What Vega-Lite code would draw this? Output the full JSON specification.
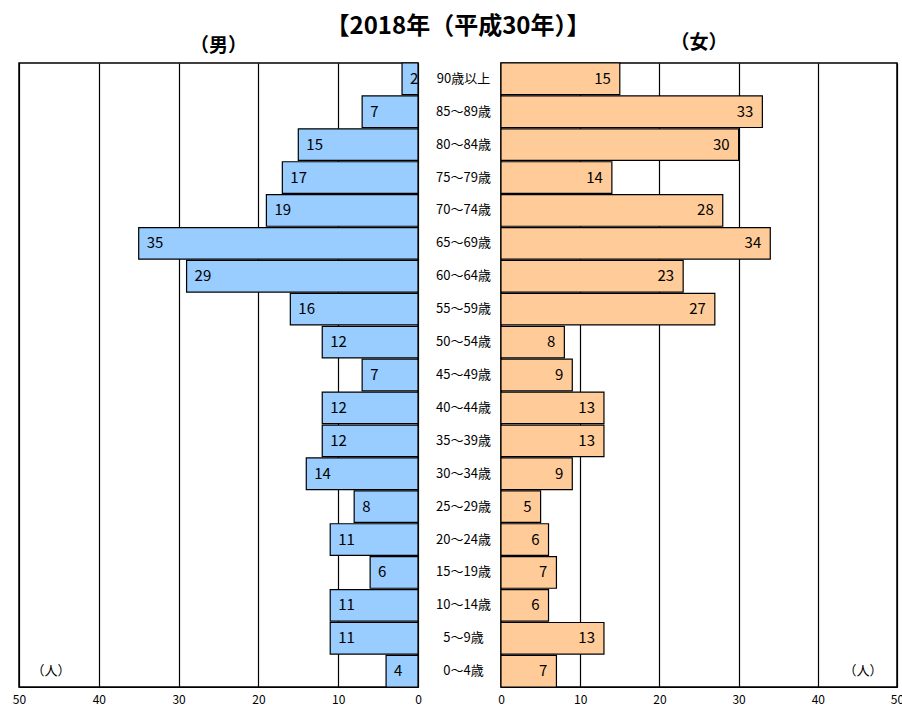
{
  "$schema": "https://vega.github.io/schema/vega-lite/v6.json",
  "background": "white",
  "padding": {"left": 11, "top": 14, "right": 0, "bottom": 5},
  "title": {"text": "【2018年（平成30年）】", "fontSize": 24, "fontWeight": "bold", "font": "Noto Sans CJK JP", "anchor": "middle", "offset": -5, "color": "black"},
  "spacing": 83,
  "bounds": "flush",
  "config": {
    "view": {"stroke": "black", "strokeWidth": 1.5},
    "font": "Noto Sans CJK JP",
    "axis": {"labelFontSize": 12, "labelColor": "black", "domainColor": "black", "gridColor": "black", "gridOpacity": 1, "gridWidth": 1.2, "ticks": false, "labelPadding": 7, "title": null, "labelFont": "Noto Sans CJK JP"},
    "title": {"color": "black", "font": "Noto Sans CJK JP"}
  },
  "datasets": {
    "pop": [
      {"age": "90歳以上", "sex": "男", "value": 2},
      {"age": "85～89歳", "sex": "男", "value": 7},
      {"age": "80～84歳", "sex": "男", "value": 15},
      {"age": "75～79歳", "sex": "男", "value": 17},
      {"age": "70～74歳", "sex": "男", "value": 19},
      {"age": "65～69歳", "sex": "男", "value": 35},
      {"age": "60～64歳", "sex": "男", "value": 29},
      {"age": "55～59歳", "sex": "男", "value": 16},
      {"age": "50～54歳", "sex": "男", "value": 12},
      {"age": "45～49歳", "sex": "男", "value": 7},
      {"age": "40～44歳", "sex": "男", "value": 12},
      {"age": "35～39歳", "sex": "男", "value": 12},
      {"age": "30～34歳", "sex": "男", "value": 14},
      {"age": "25～29歳", "sex": "男", "value": 8},
      {"age": "20～24歳", "sex": "男", "value": 11},
      {"age": "15～19歳", "sex": "男", "value": 6},
      {"age": "10～14歳", "sex": "男", "value": 11},
      {"age": "5～9歳", "sex": "男", "value": 11},
      {"age": "0～4歳", "sex": "男", "value": 4},
      {"age": "90歳以上", "sex": "女", "value": 15},
      {"age": "85～89歳", "sex": "女", "value": 33},
      {"age": "80～84歳", "sex": "女", "value": 30},
      {"age": "75～79歳", "sex": "女", "value": 14},
      {"age": "70～74歳", "sex": "女", "value": 28},
      {"age": "65～69歳", "sex": "女", "value": 34},
      {"age": "60～64歳", "sex": "女", "value": 23},
      {"age": "55～59歳", "sex": "女", "value": 27},
      {"age": "50～54歳", "sex": "女", "value": 8},
      {"age": "45～49歳", "sex": "女", "value": 9},
      {"age": "40～44歳", "sex": "女", "value": 13},
      {"age": "35～39歳", "sex": "女", "value": 13},
      {"age": "30～34歳", "sex": "女", "value": 9},
      {"age": "25～29歳", "sex": "女", "value": 5},
      {"age": "20～24歳", "sex": "女", "value": 6},
      {"age": "15～19歳", "sex": "女", "value": 7},
      {"age": "10～14歳", "sex": "女", "value": 6},
      {"age": "5～9歳", "sex": "女", "value": 13},
      {"age": "0～4歳", "sex": "女", "value": 7}
    ]
  },
  "hconcat": [
    {
      "width": 399,
      "height": 624,
      "title": {"text": "（男）", "fontSize": 19, "fontWeight": "bold", "offset": 6},
      "data": {"name": "pop"},
      "transform": [{"filter": "datum.sex === '男'"}],
      "layer": [
        {
          "mark": {"type": "bar", "color": "#99CCFF", "stroke": "black", "strokeWidth": 1.2},
          "encoding": {
            "y": {"field": "age", "type": "nominal", "sort": ["90歳以上","85～89歳","80～84歳","75～79歳","70～74歳","65～69歳","60～64歳","55～59歳","50～54歳","45～49歳","40～44歳","35～39歳","30～34歳","25～29歳","20～24歳","15～19歳","10～14歳","5～9歳","0～4歳"], "axis": null, "scale": {"paddingInner": 0.04, "paddingOuter": 0}},
            "x": {"field": "value", "type": "quantitative", "scale": {"domain": [0, 50], "reverse": true}, "axis": {"values": [0, 10, 20, 30, 40, 50], "grid": true, "labelFlush": false}}
          }
        },
        {
          "mark": {"type": "text", "align": "left", "dx": 8, "fontSize": 15, "color": "black"},
          "encoding": {
            "y": {"field": "age", "type": "nominal", "sort": ["90歳以上","85～89歳","80～84歳","75～79歳","70～74歳","65～69歳","60～64歳","55～59歳","50～54歳","45～49歳","40～44歳","35～39歳","30～34歳","25～29歳","20～24歳","15～19歳","10～14歳","5～9歳","0～4歳"]},
            "x": {"field": "value", "type": "quantitative"},
            "text": {"field": "value"}
          }
        },
        {
          "data": {"values": [{"note": "（人）"}]},
          "mark": {"type": "text", "fontSize": 13, "color": "black"},
          "encoding": {
            "x": {"datum": 46, "type": "quantitative"},
            "y": {"datum": "0～4歳", "type": "nominal"},
            "text": {"field": "note"}
          }
        }
      ]
    },
    {
      "width": 396,
      "height": 624,
      "title": {"text": "（女）", "fontSize": 19, "fontWeight": "bold", "offset": 9},
      "data": {"name": "pop"},
      "transform": [{"filter": "datum.sex === '女'"}],
      "layer": [
        {
          "mark": {"type": "bar", "color": "#FFCC99", "stroke": "black", "strokeWidth": 1.2},
          "encoding": {
            "y": {"field": "age", "type": "nominal", "sort": ["90歳以上","85～89歳","80～84歳","75～79歳","70～74歳","65～69歳","60～64歳","55～59歳","50～54歳","45～49歳","40～44歳","35～39歳","30～34歳","25～29歳","20～24歳","15～19歳","10～14歳","5～9歳","0～4歳"], "scale": {"paddingInner": 0.04, "paddingOuter": 0}, "axis": {"orient": "left", "domain": false, "ticks": false, "labelAlign": "center", "labelPadding": 38, "labelFontSize": 13, "grid": false}},
            "x": {"field": "value", "type": "quantitative", "scale": {"domain": [0, 50]}, "axis": {"values": [0, 10, 20, 30, 40, 50], "grid": true, "labelFlush": false}}
          }
        },
        {
          "mark": {"type": "text", "align": "right", "dx": -9, "fontSize": 15, "color": "black"},
          "encoding": {
            "y": {"field": "age", "type": "nominal", "sort": ["90歳以上","85～89歳","80～84歳","75～79歳","70～74歳","65～69歳","60～64歳","55～59歳","50～54歳","45～49歳","40～44歳","35～39歳","30～34歳","25～29歳","20～24歳","15～19歳","10～14歳","5～9歳","0～4歳"]},
            "x": {"field": "value", "type": "quantitative"},
            "text": {"field": "value"}
          }
        },
        {
          "data": {"values": [{"note": "（人）"}]},
          "mark": {"type": "text", "fontSize": 13, "color": "black"},
          "encoding": {
            "x": {"datum": 45.7, "type": "quantitative"},
            "y": {"datum": "0～4歳", "type": "nominal"},
            "text": {"field": "note"}
          }
        }
      ]
    }
  ]
}
